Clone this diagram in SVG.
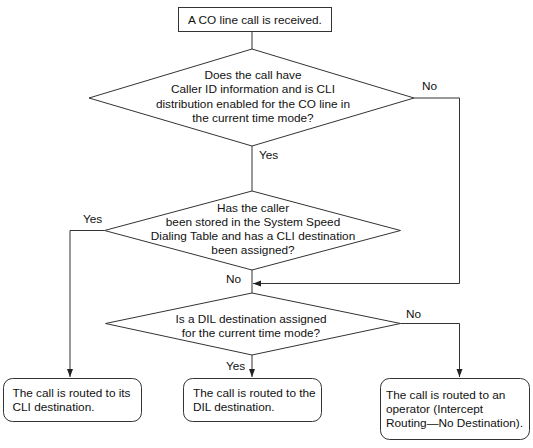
<svg xmlns="http://www.w3.org/2000/svg" width="533" height="448" viewBox="0 0 533 448">
<style>
text{font-family:"Liberation Sans",Arial,sans-serif;font-size:11.8px;fill:#111}
.c{text-anchor:middle}
.shape{fill:#fff;stroke:#333;stroke-width:1}
.ln{fill:none;stroke:#333;stroke-width:1}
</style>
<defs>
<marker id="ah" markerUnits="userSpaceOnUse" markerWidth="8" markerHeight="8" viewBox="0 0 8 8" refX="8" refY="4" orient="auto">
<path d="M0,1 L8,4 L0,7 Z" fill="#222"/>
</marker>
</defs>
<rect width="533" height="448" fill="#fff"/>
<g id="connectors">
<path class="ln" d="M252,32 V49"/>
<path class="ln" d="M252,146 V191"/>
<path class="ln" d="M414,98 H459.5 V283.5 H253" marker-end="url(#ah)"/>
<path class="ln" d="M252,270 V293"/>
<path class="ln" d="M104.5,230.5 H70 V377" marker-end="url(#ah)"/>
<path class="ln" d="M252,355 V377" marker-end="url(#ah)"/>
<path class="ln" d="M400.5,323.5 H459.5 V377" marker-end="url(#ah)"/>
<text x="422" y="90">No</text>
<text x="259" y="159">Yes</text>
<text x="83" y="223">Yes</text>
<text x="226" y="283">No</text>
<text x="406" y="318">No</text>
<text x="226" y="370">Yes</text>
</g>
<g id="start">
<rect class="shape" x="178.5" y="7.5" width="153" height="24"/>
<text class="c" x="255" y="23.5">A CO line call is received.</text>
</g>
<g id="decision1">
<polygon class="shape" points="252,49 414,98 252,146 89,98"/>
<text class="c" x="253" y="79">Does the call have</text>
<text class="c" x="253" y="93.3">Caller ID information and is CLI</text>
<text class="c" x="253" y="107.6">distribution enabled for the CO line in</text>
<text class="c" x="253" y="122">the current time mode?</text>
</g>
<g id="decision2">
<polygon class="shape" points="252,191 400.5,230.5 252,270 104.5,230.5"/>
<text class="c" x="253" y="211.5">Has the caller</text>
<text class="c" x="253" y="225.8">been stored in the System Speed</text>
<text class="c" x="253" y="240">Dialing Table and has a CLI destination</text>
<text class="c" x="253" y="254.3">been assigned?</text>
</g>
<g id="decision3">
<polygon class="shape" points="252,293 400.5,323.5 252,355 105.5,323.5"/>
<text class="c" x="251" y="322.5">Is a DIL destination assigned</text>
<text class="c" x="251" y="336.8">for the current time mode?</text>
</g>
<g id="cli-dest">
<rect class="shape" x="3.5" y="378.5" width="138" height="43" rx="9"/>
<text x="12.5" y="396.5">The call is routed to its</text>
<text x="12.5" y="411">CLI destination.</text>
</g>
<g id="dil-dest">
<rect class="shape" x="183.5" y="378.5" width="138" height="43" rx="9"/>
<text x="193" y="396.5">The call is routed to the</text>
<text x="193" y="411">DIL destination.</text>
</g>
<g id="operator">
<rect class="shape" x="380.5" y="378.5" width="149" height="61" rx="9"/>
<text x="386" y="398.5">The call is routed to an</text>
<text x="386" y="412.5">operator (Intercept</text>
<text x="386" y="427">Routing—No Destination).</text>
</g>
</svg>
